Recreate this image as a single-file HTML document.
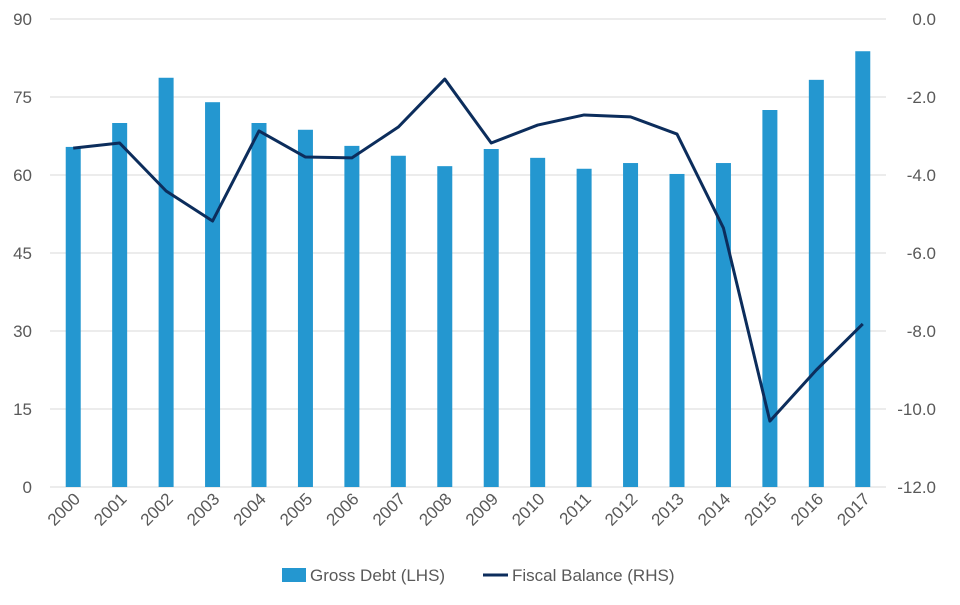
<!DOCTYPE html>
<html><head><meta charset="utf-8"><style>
body{margin:0;background:#fff;font-family:"Liberation Sans",sans-serif}
svg text{font-family:"Liberation Sans",sans-serif;fill:#595959}
</style></head><body>
<svg id="chart" width="960" height="600"></svg>
<script>
const years=["2000","2001","2002","2003","2004","2005","2006","2007","2008","2009","2010","2011","2012","2013","2014","2015","2016","2017"];
const grossDebt=[65.4,70,78.7,74,70,68.7,65.6,63.7,61.7,65,63.3,61.2,62.3,60.2,62.3,72.5,78.3,83.8];
const fiscalBalance=[-3.31,-3.18,-4.41,-5.18,-2.87,-3.54,-3.56,-2.77,-1.54,-3.18,-2.72,-2.46,-2.51,-2.95,-5.36,-10.31,-9.0,-7.82];
const leftTicks=[0,15,30,45,60,75,90];
const rightTicks=["0.0","-2.0","-4.0","-6.0","-8.0","-10.0","-12.0"];
const NS="http://www.w3.org/2000/svg";
const svgEl=document.getElementById('chart');
const plotTop=19,plotBottom=487,x0=50,x1=886;
const yL=v=>plotBottom-(v/90)*(plotBottom-plotTop);
const yR=v=>plotTop+(-v/12)*(plotBottom-plotTop);
const step=(x1-x0)/years.length;
const xC=i=>x0+step*(i+0.5);
function mk(t,a){const e=document.createElementNS(NS,t);for(const k in a)e.setAttribute(k,a[k]);svgEl.appendChild(e);return e;}
leftTicks.forEach((v,i)=>{
 const g=mk('line',{x1:x0,x2:x1,y1:yL(v),y2:yL(v),stroke:'#d9d9d9','stroke-width':1});
 
 
 const t=mk('text',{x:32,y:yL(v)+6,'text-anchor':'end','font-size':17});t.textContent=v;
 
 
 const r=mk('text',{x:936,y:yL(v)+6,'text-anchor':'end','font-size':17});r.textContent=rightTicks[leftTicks.length-1-i];
 
 
});
years.forEach((y,i)=>{
 const b=mk('rect',{x:xC(i)-7.5,y:yL(grossDebt[i]),width:15,height:plotBottom-yL(grossDebt[i]),fill:'#2497d0'});
 
 
 const t=mk('text',{x:xC(i)+8,y:500,'text-anchor':'end','font-size':17,transform:`rotate(-45 ${xC(i)+8} 500)`});t.textContent=y;
 
 
});
const pl=mk('polyline',{points:fiscalBalance.map((v,i)=>xC(i)+','+yR(v)).join(' '),fill:'none',stroke:'#0c2d5c','stroke-width':3,'stroke-linejoin':'round'});


const lr=mk('rect',{x:282,y:568,width:24,height:14,fill:'#2497d0'});


const lt=mk('text',{x:310,y:581,'font-size':17});lt.textContent='Gross Debt (LHS)';


const ll=mk('line',{x1:483,x2:508,y1:575,y2:575,stroke:'#0c2d5c','stroke-width':3});


const lt2=mk('text',{x:512,y:581,'font-size':17});lt2.textContent='Fiscal Balance (RHS)';


</script>
</body></html>
